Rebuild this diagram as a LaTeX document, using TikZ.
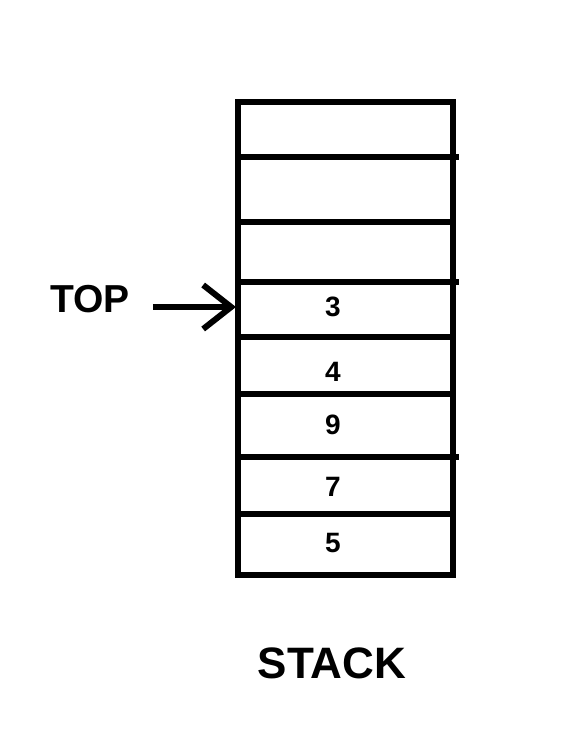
\documentclass[tikz,border=0pt]{standalone}
\usepackage{fontspec}
\setmainfont{Liberation Sans}
\usetikzlibrary{arrows.meta, positioning}

\begin{document}
\begin{tikzpicture}[x=1pt, y=-1pt,
    cellline/.style={line width=6.5pt},
    cellval/.style={font=\bfseries\fontsize{28}{28}\selectfont, inner sep=0pt},
    biglabel/.style={font=\bfseries\fontsize{39}{39}\selectfont, inner sep=0pt}]
  \useasboundingbox (0,0) rectangle (582,740);
  % stack frame and cell dividers
  \draw[cellline] (238,102) rectangle (453,575);
  \draw[cellline] (238,157) -- (459,157);
  \draw[cellline] (238,222) -- (453,222);
  \draw[cellline] (238,282) -- (459,282);
  \draw[cellline] (238,337) -- (453,337);
  \draw[cellline] (238,394) -- (453,394);
  \draw[cellline] (238,457) -- (459,457);
  \draw[cellline] (238,514) -- (453,514);
  % values
  \node[cellval] (v3) at (333,307) {3};
  \node[cellval] (v4) at (333,372) {4};
  \node[cellval] (v9) at (333,425) {9};
  \node[cellval] (v7) at (333,487) {7};
  \node[cellval] (v5) at (333,543) {5};
  % top pointer
  \node[biglabel] (toplbl) at (90,299) {TOP};
  \coordinate (ptr) at (236,307);
  \draw[line width=6pt, -{Straight Barb[length=28pt, width=44pt]}, shorten <=23pt]
    (toplbl.east |- ptr) -- (ptr);
  \node[font=\bfseries\fontsize{44}{44}\selectfont, inner sep=0pt] (title) at (332,663) {STACK};
\end{tikzpicture}
\end{document}
